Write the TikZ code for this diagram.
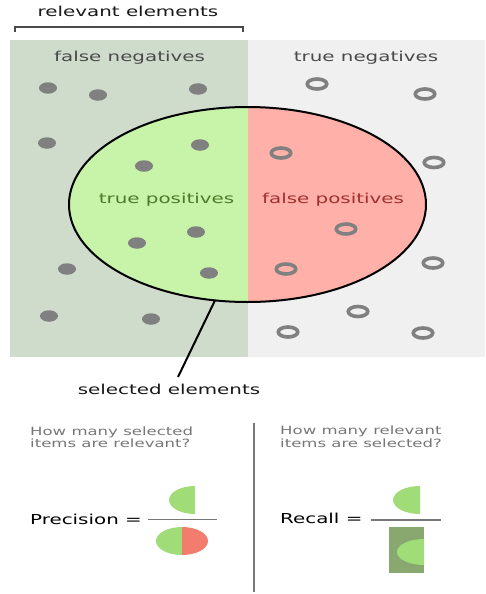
\documentclass[tikz,border=0pt]{standalone}
\usepackage{fontspec}
\setmainfont{DejaVu Sans}[FakeStretch=1.45]
\usetikzlibrary{shapes.geometric}
\definecolor{relbg}{HTML}{D0DCCB}
\definecolor{negbg}{HTML}{F0F0F0}
\definecolor{tpfill}{HTML}{C8F4AA}
\definecolor{fpfill}{HTML}{FFB0A8}
\definecolor{dotgray}{HTML}{808080}
\definecolor{labgray}{HTML}{4A4A4A}
\definecolor{tptext}{HTML}{4A7A2A}
\definecolor{fptext}{HTML}{A03030}
\definecolor{qgray}{HTML}{777777}
\definecolor{pgreen}{HTML}{A0DC78}
\definecolor{pred}{HTML}{F27D6E}
\definecolor{rdark}{HTML}{88A870}
\begin{document}
\begin{tikzpicture}[x=1pt,y=-1pt,
  dotf/.style={ellipse, fill=dotgray, minimum width=18, minimum height=11.5, inner sep=0},
  ring/.style={ellipse, draw=dotgray, line width=3.6, minimum width=19.5, minimum height=10, inner sep=0},
  biglabel/.style={anchor=base, font=\fontsize{13.7}{16}\selectfont},
  question/.style={anchor=base west, align=left, text=qgray, inner sep=0, font=\fontsize{11.4}{10.5}\selectfont},
  formula/.style={anchor=base west, inner sep=0, font=\fontsize{13.7}{16}\selectfont},
  fracline/.style={draw=qgray, line width=1.5},
]
\useasboundingbox (0,0) rectangle (486,594);
\fill[white] (0,0) rectangle (486,594);
% backgrounds
\fill[relbg] (10,40) rectangle (247.5,357);
\fill[negbg] (247.5,40) rectangle (485,357);
% bracket
\draw[line width=2, labgray] (15,32) -- (15,27) -- (243,27) -- (243,32);
\node[biglabel, text=black!90] (rel) at (128,17) {relevant elements};
\node[biglabel, text=labgray] (fn) at (129.5,62) {false negatives};
\node[biglabel, text=labgray] (tn) at (366,62) {true negatives};
% selected ellipse halves
\begin{scope}
\clip (247.5,204.5) ellipse (178.5 and 97.5);
\fill[tpfill] (60,100) rectangle (247.5,310);
\fill[fpfill] (247.5,100) rectangle (440,310);
\end{scope}
\node[biglabel, text=tptext] (tp) at (166.5,203) {true positives};
\node[biglabel, text=fptext] (fp) at (333,203) {false positives};
% relevant items
\node[dotf] (d1) at (48,88) {};
\node[dotf] (d2) at (98,95) {};
\node[dotf] (d3) at (198,89) {};
\node[dotf] (d4) at (47,143) {};
\node[dotf] (d5) at (144,166) {};
\node[dotf] (d6) at (200,145) {};
\node[dotf] (d7) at (137,243) {};
\node[dotf] (d8) at (196,232) {};
\node[dotf] (d9) at (209,273) {};
\node[dotf] (d10) at (67,269) {};
\node[dotf] (d11) at (49,316) {};
\node[dotf] (d12) at (151,319) {};
% non-relevant items
\node[ring] (r1) at (317,84) {};
\node[ring] (r2) at (425,94) {};
\node[ring] (r3) at (281,153) {};
\node[ring] (r4) at (434,162.5) {};
\node[ring] (r5) at (346,229) {};
\node[ring] (r6) at (286,269) {};
\node[ring] (r7) at (433,263) {};
\node[ring] (r8) at (358,311.5) {};
\node[ring] (r9) at (288,332) {};
\node[ring] (r10) at (423,333) {};
% outline
\node[draw, ellipse, line width=2, minimum width=357, minimum height=195, inner sep=0] (sel) at (247.5,204.5) {};
\coordinate (lead) at (215,300.4);
\coordinate (leadend) at (178,377);
\draw[line width=2] (lead) -- (leadend);
\node[biglabel, text=black!90] (selt) at (169,394) {selected elements};
% divider
\coordinate (divtop) at (254,423);
\coordinate (divbot) at (254,592);
\draw[qgray, line width=1.5] (divtop) -- (divbot);
% questions
\node[question] (q1) at (30,447.5) {How many selected\\items are relevant?};
\node[question] (q2) at (280,447) {How many relevant\\items are selected?};
% precision
\node[formula] (prec) at (30,524) {Precision =};
\coordinate (pl1) at (148,519.5);
\coordinate (pl2) at (217,519.5);
\draw[fracline] (pl1) -- (pl2);
\begin{scope}
\clip (160,480) rectangle (195,520);
\fill[pgreen] (195,500) ellipse (26 and 14);
\end{scope}
\begin{scope}
\clip (150,520) rectangle (182,560);
\fill[pgreen] (182,541) ellipse (26 and 14);
\end{scope}
\begin{scope}
\clip (182,520) rectangle (215,560);
\fill[pred] (182,541) ellipse (26 and 14);
\end{scope}
% recall
\node[formula] (rec) at (280,523) {Recall =};
\coordinate (rl1) at (371,520);
\coordinate (rl2) at (441,520);
\draw[fracline] (rl1) -- (rl2);
\begin{scope}
\clip (385,480) rectangle (420,520);
\fill[pgreen] (420,500) ellipse (27 and 14);
\end{scope}
\fill[rdark] (389,527) rectangle (424,573);
\begin{scope}
\clip (389,530) rectangle (424,570);
\fill[pgreen] (424,552) ellipse (27 and 13);
\end{scope}
\end{tikzpicture}
\end{document}
